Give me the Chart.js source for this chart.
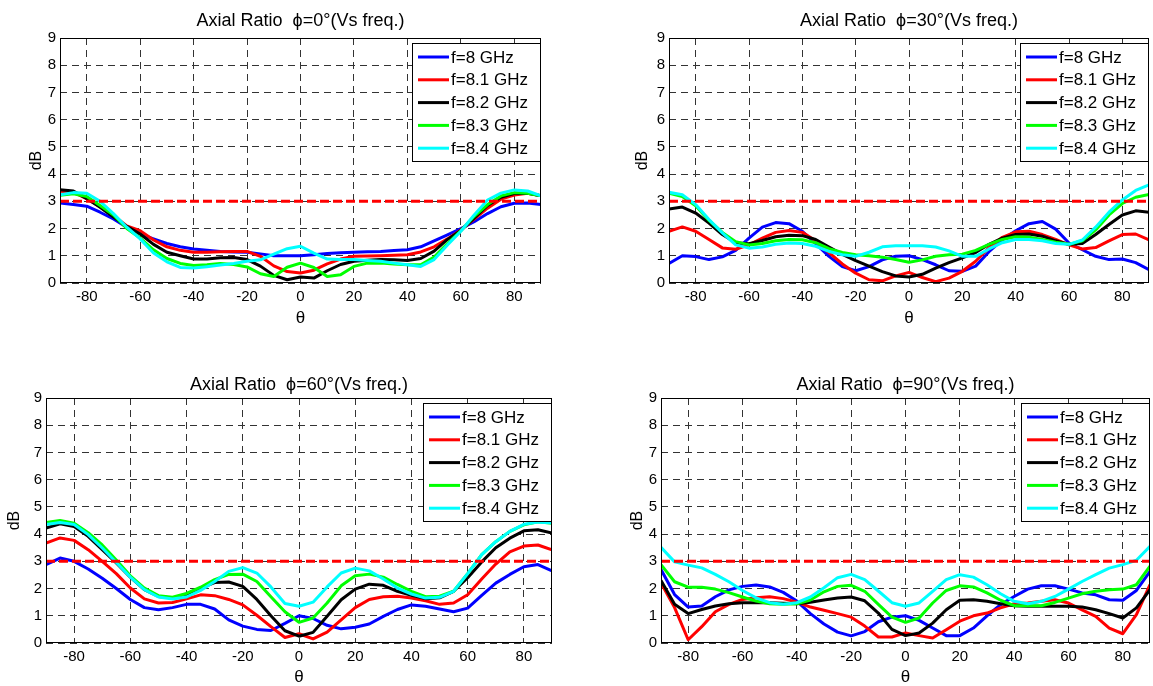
<!DOCTYPE html>
<html>
<head>
<meta charset="utf-8">
<title>Axial Ratio vs frequency</title>
<script src="https://cdn.jsdelivr.net/npm/chart.js@4.4.1/dist/chart.umd.min.js"></script>
<style>
    body { margin: 0; background: #fff; width: 1153px; height: 686px; overflow: hidden; position: relative; }
    canvas { position: absolute; }
</style>
</head>
<body>
<canvas id="phi0"></canvas>
<canvas id="phi30"></canvas>
<canvas id="phi60"></canvas>
<canvas id="phi90"></canvas>
<script>
// theta samples (deg), 5 deg step
const THETA = [-90, -85, -80, -75, -70, -65, -60, -55, -50, -45, -40, -35, -30, -25, -20, -15, -10, -5, 0,
    5, 10, 15, 20, 25, 30, 35, 40, 45, 50, 55, 60, 65, 70, 75, 80, 85, 90];
const FREQ_LABELS = ['f=8 GHz', 'f=8.1 GHz', 'f=8.2 GHz', 'f=8.3 GHz', 'f=8.4 GHz'];
const LINE_COLORS = ['#0000ff', '#ff0000', '#000000', '#00ff00', '#00ffff'];
const X_TICKS = [-80, -60, -40, -20, 0, 20, 40, 60, 80];
const Y_TICKS = [0, 1, 2, 3, 4, 5, 6, 7, 8, 9];
const AR_LIMIT = 3;

// phi = 0
const PHI0_F80 = [2.94, 2.88, 2.82, 2.6, 2.35, 2.05, 1.8, 1.62, 1.45, 1.33, 1.25, 1.2, 1.16, 1.14, 1.13, 1.07, 1.0, 1.0, 1.0,
    1.04, 1.08, 1.11, 1.13, 1.15, 1.16, 1.19, 1.22, 1.33, 1.55, 1.77, 2.0, 2.25, 2.55, 2.8, 2.93, 2.94, 2.88];
const PHI0_F81 = [3.37, 3.33, 3.1, 2.8, 2.48, 2.1, 1.92, 1.58, 1.33, 1.2, 1.13, 1.13, 1.15, 1.16, 1.16, 0.98, 0.63, 0.42, 0.37,
    0.47, 0.7, 0.88, 0.98, 0.99, 1.0, 1.02, 1.04, 1.14, 1.33, 1.62, 1.95, 2.35, 2.75, 3.08, 3.23, 3.3, 3.2];
const PHI0_F82 = [3.43, 3.38, 3.1, 2.78, 2.42, 2.08, 1.8, 1.42, 1.13, 1.0, 0.88, 0.88, 0.93, 0.94, 0.86, 0.62, 0.28, 0.12, 0.22,
    0.18, 0.45, 0.68, 0.8, 0.84, 0.86, 0.85, 0.83, 0.9, 1.17, 1.6, 1.93, 2.38, 2.85, 3.15, 3.29, 3.3, 3.2];
const PHI0_F83 = [3.22, 3.28, 3.18, 2.85, 2.5, 2.0, 1.65, 1.22, 0.9, 0.72, 0.64, 0.67, 0.72, 0.68, 0.59, 0.34, 0.24, 0.58, 0.73,
    0.57, 0.24, 0.3, 0.61, 0.73, 0.73, 0.7, 0.67, 0.67, 0.95, 1.45, 1.92, 2.45, 2.88, 3.2, 3.32, 3.3, 3.2];
const PHI0_F84 = [3.24, 3.32, 3.3, 3.0, 2.55, 2.05, 1.62, 1.1, 0.78, 0.57, 0.55, 0.6, 0.66, 0.72, 0.8, 0.85, 1.06, 1.26, 1.35,
    1.1, 0.88, 0.86, 0.86, 0.83, 0.8, 0.73, 0.67, 0.61, 0.86, 1.4, 1.9, 2.5, 3.05, 3.3, 3.42, 3.38, 3.2];

// phi = 30
const PHI30_F80 = [0.72, 1.0, 0.97, 0.86, 0.96, 1.2, 1.65, 2.05, 2.22, 2.18, 1.9, 1.45, 0.98, 0.6, 0.45, 0.6, 0.85, 0.98, 1.0,
    0.86, 0.67, 0.45, 0.43, 0.62, 1.15, 1.58, 1.92, 2.18, 2.26, 1.98, 1.47, 1.22, 0.98, 0.86, 0.88, 0.75, 0.49];
const PHI30_F81 = [1.9, 2.06, 1.9, 1.6, 1.29, 1.24, 1.4, 1.65, 1.86, 1.93, 1.86, 1.55, 1.12, 0.7, 0.36, 0.12, 0.08, 0.26, 0.39,
    0.2, 0.05, 0.18, 0.43, 0.8, 1.3, 1.68, 1.88, 1.9, 1.78, 1.6, 1.4, 1.25, 1.3, 1.55, 1.78, 1.8, 1.58];
const PHI30_F82 = [2.72, 2.79, 2.57, 2.2, 1.78, 1.48, 1.44, 1.56, 1.7, 1.75, 1.74, 1.6, 1.32, 1.05, 0.82, 0.62, 0.42, 0.26, 0.22,
    0.32, 0.55, 0.75, 0.92, 1.12, 1.42, 1.65, 1.78, 1.8, 1.72, 1.55, 1.42, 1.45, 1.78, 2.15, 2.5, 2.65, 2.6];
const PHI30_F83 = [3.3, 3.18, 2.84, 2.3, 1.86, 1.52, 1.4, 1.45, 1.55, 1.6, 1.59, 1.48, 1.26, 1.12, 1.04, 1.0, 0.95, 0.86, 0.76,
    0.85, 0.98, 1.04, 1.06, 1.2, 1.42, 1.6, 1.7, 1.68, 1.6, 1.5, 1.42, 1.55, 1.95, 2.5, 2.92, 3.15, 3.25];
const PHI30_F84 = [3.33, 3.24, 2.88, 2.33, 1.84, 1.4, 1.28, 1.32, 1.42, 1.47, 1.45, 1.35, 1.16, 1.04, 0.98, 1.13, 1.33, 1.37, 1.37,
    1.37, 1.32, 1.18, 0.98, 0.98, 1.25, 1.48, 1.6, 1.6, 1.55, 1.45, 1.42, 1.58, 2.05, 2.6, 3.05, 3.4, 3.6];

// phi = 60
const PHI60_F80 = [2.88, 3.12, 3.0, 2.72, 2.38, 2.0, 1.6, 1.3, 1.22, 1.3, 1.42, 1.42, 1.25, 0.85, 0.62, 0.5, 0.46, 0.72, 1.0,
    0.9, 0.65, 0.52, 0.58, 0.7, 0.98, 1.23, 1.4, 1.35, 1.25, 1.15, 1.28, 1.75, 2.2, 2.52, 2.8, 2.88, 2.65];
const PHI60_F81 = [3.67, 3.86, 3.77, 3.43, 3.0, 2.55, 2.02, 1.62, 1.47, 1.49, 1.62, 1.77, 1.74, 1.6, 1.4, 1.02, 0.6, 0.2, 0.34,
    0.15, 0.4, 0.85, 1.3, 1.6, 1.7, 1.72, 1.65, 1.55, 1.42, 1.47, 1.77, 2.35, 2.9, 3.35, 3.56, 3.6, 3.42];
const PHI60_F82 = [4.22, 4.38, 4.28, 3.92, 3.43, 2.94, 2.42, 1.96, 1.71, 1.65, 1.8, 2.02, 2.22, 2.24, 2.08, 1.6, 1.0, 0.45, 0.25,
    0.39, 0.98, 1.59, 1.98, 2.16, 2.12, 1.9, 1.75, 1.63, 1.66, 1.9, 2.4, 2.98, 3.5, 3.85, 4.12, 4.16, 4.04];
const PHI60_F83 = [4.43, 4.5, 4.4, 4.05, 3.6, 3.05, 2.47, 2.02, 1.74, 1.68, 1.82, 2.05, 2.33, 2.52, 2.53, 2.26, 1.7, 1.15, 0.76,
    0.92, 1.47, 2.1, 2.47, 2.53, 2.42, 2.15, 1.9, 1.7, 1.72, 1.9, 2.55, 3.25, 3.72, 4.1, 4.34, 4.45, 4.4];
const PHI60_F84 = [4.35, 4.43, 4.35, 3.98, 3.49, 2.96, 2.42, 1.96, 1.69, 1.62, 1.69, 1.93, 2.26, 2.63, 2.77, 2.57, 2.06, 1.45, 1.35,
    1.5, 2.06, 2.57, 2.75, 2.65, 2.35, 2.02, 1.8, 1.65, 1.68, 1.9, 2.55, 3.25, 3.72, 4.1, 4.36, 4.44, 4.42];

// phi = 90
const PHI90_F80 = [2.7, 1.78, 1.32, 1.36, 1.7, 1.95, 2.08, 2.13, 2.06, 1.86, 1.54, 1.08, 0.7, 0.4, 0.26, 0.42, 0.78, 0.95, 1.0,
    0.83, 0.55, 0.27, 0.27, 0.55, 1.0, 1.41, 1.71, 1.98, 2.1, 2.1, 1.98, 1.84, 1.77, 1.59, 1.57, 1.93, 2.63];
const PHI90_F81 = [2.21, 1.3, 0.12, 0.6, 1.15, 1.42, 1.6, 1.66, 1.7, 1.63, 1.5, 1.32, 1.2, 1.08, 0.95, 0.62, 0.22, 0.22, 0.37,
    0.27, 0.18, 0.49, 0.8, 1.0, 1.1, 1.29, 1.44, 1.47, 1.53, 1.59, 1.47, 1.22, 0.98, 0.55, 0.34, 1.04, 2.14];
const PHI90_F82 = [2.3, 1.42, 1.08, 1.23, 1.36, 1.44, 1.48, 1.48, 1.48, 1.46, 1.44, 1.5, 1.58, 1.65, 1.69, 1.55, 1.1, 0.5, 0.27,
    0.37, 0.73, 1.22, 1.57, 1.59, 1.53, 1.44, 1.37, 1.35, 1.35, 1.35, 1.35, 1.32, 1.22, 1.08, 0.92, 1.29, 1.96];
const PHI90_F83 = [2.88, 2.25, 2.05, 2.05, 1.98, 1.85, 1.69, 1.54, 1.44, 1.42, 1.44, 1.58, 1.88, 2.08, 2.12, 1.9, 1.42, 0.95, 0.76,
    0.92, 1.47, 1.93, 2.1, 2.06, 1.84, 1.57, 1.37, 1.37, 1.37, 1.49, 1.65, 1.81, 1.9, 1.96, 1.98, 2.14, 2.82];
const PHI90_F84 = [3.52, 2.98, 2.86, 2.76, 2.52, 2.25, 1.93, 1.66, 1.48, 1.42, 1.48, 1.69, 2.03, 2.4, 2.52, 2.33, 1.91, 1.48, 1.35,
    1.47, 1.9, 2.33, 2.51, 2.42, 2.14, 1.81, 1.53, 1.44, 1.53, 1.71, 1.98, 2.26, 2.51, 2.75, 2.88, 3.04, 3.55];

const FONT = '"Liberation Sans", Arial, Helvetica, sans-serif';
Chart.defaults.font.family = FONT;
Chart.defaults.color = '#000';

// black box around the plot area, like matlab "box on"
const axesBox = {
    id: 'axesBox',
    afterDatasetsDraw(chart) {
        const a = chart.chartArea;
        const ctx = chart.ctx;
        ctx.save();
        ctx.strokeStyle = '#000';
        ctx.lineWidth = 1;
        ctx.strokeRect(Math.round(a.left) + 0.5, Math.round(a.top) + 0.5,
            Math.round(a.right - a.left) - 1, Math.round(a.bottom - a.top) - 1);
        ctx.restore();
    }
};

// legend drawn inside the axes (north east)
const insideLegend = {
    id: 'insideLegend',
    afterDraw(chart) {
        const a = chart.chartArea;
        const ctx = chart.ctx;
        const w = 128, h = 118;
        const x = Math.round(a.right) - w - 1;
        const y = Math.round(a.top) + 5;
        ctx.save();
        ctx.fillStyle = '#fff';
        ctx.fillRect(x, y, w, h);
        ctx.strokeStyle = '#000';
        ctx.lineWidth = 1;
        ctx.strokeRect(x + 0.5, y + 0.5, w, h);
        ctx.font = '17px ' + FONT;
        ctx.textBaseline = 'middle';
        ctx.textAlign = 'left';
        for (let i = 0; i < FREQ_LABELS.length; i++) {
            const ds = chart.data.datasets[i];
            const ly = y + 14 + i * 22.8;
            ctx.strokeStyle = ds.borderColor;
            ctx.lineWidth = 3;
            ctx.beginPath();
            ctx.moveTo(x + 6, ly);
            ctx.lineTo(x + 37, ly);
            ctx.stroke();
            ctx.fillStyle = '#000';
            ctx.fillText(ds.label, x + 39, ly + 1);
        }
        ctx.restore();
    }
};

function genAxialRatioPlot(id, phi, series, area, titleY, dbX, thetaY) {
    const padL = 60, padT = 38, padR = 6, padB = 45;
    const titleSize = 18;
    const cvs = document.getElementById(id);
    const left = area.l - padL, top = area.t - padT;
    cvs.width = area.r - area.l + padL + padR;
    cvs.height = area.b - area.t + padT + padB;
    cvs.style.left = left + 'px';
    cvs.style.top = top + 'px';

    const lh = 16 * 1.2;
    const titleTop = titleY - top - titleSize * 1.2 / 2;

    var datasets = [];
    for (let i in series) {
        datasets.push({
            label: FREQ_LABELS[i],
            data: THETA.map((t, k) => ({x: t, y: series[i][k]})),
            borderColor: LINE_COLORS[i],
            backgroundColor: LINE_COLORS[i],
            borderWidth: 3,
            borderJoinStyle: 'round',
            pointRadius: 0,
            tension: 0,
            order: 5 - i
        });
    }
    datasets.push({
        label: '3 dB',
        data: [{x: THETA[0], y: AR_LIMIT}, {x: THETA[THETA.length - 1], y: AR_LIMIT}],
        borderColor: '#ff0000',
        borderWidth: 3,
        borderDash: [9, 4],
        pointRadius: 0,
        order: 0
    });

    new Chart(cvs, {
        type: 'line',
        data: { datasets: datasets },
        plugins: [axesBox, insideLegend],
        options: {
            responsive: false,
            animation: false,
            events: [],
            layout: { padding: { left: 0, top: 0, right: padR, bottom: 0 } },
            plugins: {
                legend: { display: false },
                tooltip: { enabled: false },
                title: {
                    display: true,
                    fullSize: false,
                    text: 'Axial Ratio  ϕ=' + phi + '°(Vs freq.)',
                    color: '#000',
                    font: { size: titleSize, weight: 'normal' },
                    padding: { top: titleTop, bottom: padT - titleSize * 1.2 - titleTop }
                }
            },
            scales: {
                x: {
                    type: 'linear',
                    min: -90,
                    max: 90,
                    afterBuildTicks: function(axis) {
                        axis.ticks = X_TICKS.map(v => ({value: v}));
                    },
                    afterFit: function(axis) {
                        axis.height = padB;
                    },
                    ticks: { font: { size: 15 }, padding: 5, maxRotation: 0, autoSkip: false },
                    grid: { color: '#333', lineWidth: 1, drawTicks: false, tickLength: 0 },
                    border: { display: false, dash: [7, 5] },
                    title: {
                        display: true,
                        text: 'θ',
                        font: { size: 17 },
                        padding: { top: 0, bottom: cvs.height - (thetaY - top) - 17 * 1.2 / 2 }
                    }
                },
                y: {
                    min: 0,
                    max: 9,
                    afterBuildTicks: function(axis) {
                        axis.ticks = Y_TICKS.map(v => ({value: v}));
                    },
                    afterFit: function(axis) {
                        axis.width = padL;
                    },
                    ticks: { font: { size: 15 }, padding: 4 },
                    grid: { color: '#333', lineWidth: 1, drawTicks: false, tickLength: 0 },
                    border: { display: false, dash: [7, 5] },
                    title: {
                        display: true,
                        text: 'dB',
                        font: { size: 16 },
                        padding: { top: dbX - left - lh / 2, bottom: 0 }
                    }
                }
            }
        }
    });
}

genAxialRatioPlot('phi0', 0, [PHI0_F80, PHI0_F81, PHI0_F82, PHI0_F83, PHI0_F84],
    {l: 60, t: 38, r: 541, b: 283}, 21, 37, 318);

genAxialRatioPlot('phi30', 30, [PHI30_F80, PHI30_F81, PHI30_F82, PHI30_F83, PHI30_F84],
    {l: 669, t: 38, r: 1149, b: 283}, 21, 643, 318);

genAxialRatioPlot('phi60', 60, [PHI60_F80, PHI60_F81, PHI60_F82, PHI60_F83, PHI60_F84],
    {l: 46, t: 398, r: 552, b: 643}, 385, 15, 677);

genAxialRatioPlot('phi90', 90, [PHI90_F80, PHI90_F81, PHI90_F82, PHI90_F83, PHI90_F84],
    {l: 661, t: 398, r: 1150, b: 643}, 385, 638, 677);
</script>
</body>
</html>
